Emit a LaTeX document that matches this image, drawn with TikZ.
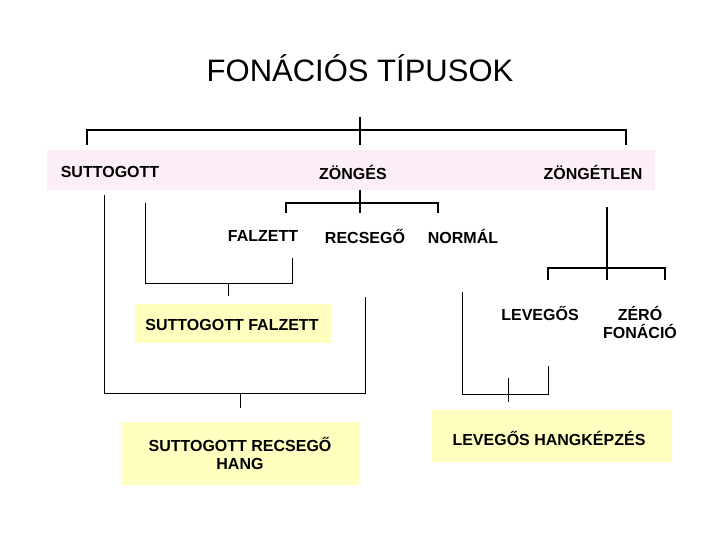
\documentclass[tikz,border=0pt]{standalone}
\usepackage{fontspec}
\setmainfont{Liberation Sans}
\begin{document}
\begin{tikzpicture}[x=1pt,y=-1pt,
  lbl/.style={font=\bfseries\fontsize{16}{18}\selectfont,align=center,inner sep=0pt},
  thick line/.style={line width=2.4pt},
  thin line/.style={line width=0.9pt}]
\definecolor{ybg}{RGB}{255,255,192}
\definecolor{pbg}{RGB}{252,238,246}
\useasboundingbox (0,0) rectangle (720,540);
\fill[white] (0,0) rectangle (720,540);
\node[font=\fontsize{31}{36}\selectfont] (title) at (360,68) {FONÁCIÓS TÍPUSOK};
\fill[pbg] (47,150) rectangle (655,190);
\node[lbl] (sut) at (110,172) {SUTTOGOTT};
\node[lbl] (zon) at (353,172) {ZÖNGÉS};
\node[lbl] (zt) at (593,172) {ZÖNGÉTLEN};
\draw[thick line] (87,145) -- (87,130) -- (626,130) -- (626,145);
\draw[thick line] (360,117) -- (360,145);
\draw[thick line] (286,213) -- (286,203) -- (438,203) -- (438,213);
\draw[thick line] (360,190) -- (360,213);
\node[lbl] (fal) at (263,236) {FALZETT};
\node[lbl] (rec) at (365,236) {RECSEGŐ};
\node[lbl] (nor) at (463,236) {NORMÁL};
\draw[thick line] (607,207) -- (607,280);
\draw[thick line] (548,280) -- (548,268) -- (665,268) -- (665,280);
\node[lbl] (lev) at (540,313) {LEVEGŐS};
\node[lbl] (zer) at (640,322) {ZÉRÓ\\FONÁCIÓ};
\fill[ybg] (135,304) rectangle (331,343);
\node[lbl] (sf) at (232,325) {SUTTOGOTT FALZETT};
\fill[ybg] (121,422) rectangle (360,485);
\node[lbl] (sr) at (240,453) {SUTTOGOTT RECSEGŐ\\HANG};
\fill[ybg] (432,410) rectangle (672,462);
\node[lbl] (lh) at (549,438) {LEVEGŐS HANGKÉPZÉS};
\draw[thin line] (145,203) -- (145,283) -- (292,283) -- (292,258);
\draw[thin line] (228,283) -- (228,296);
\draw[thin line] (104,195) -- (104,393) -- (365,393) -- (365,297);
\draw[thin line] (240,393) -- (240,408);
\draw[thin line] (462,292) -- (462,394) -- (548,394) -- (548,366);
\draw[thin line] (508,378) -- (508,402);
\end{tikzpicture}
\end{document}
